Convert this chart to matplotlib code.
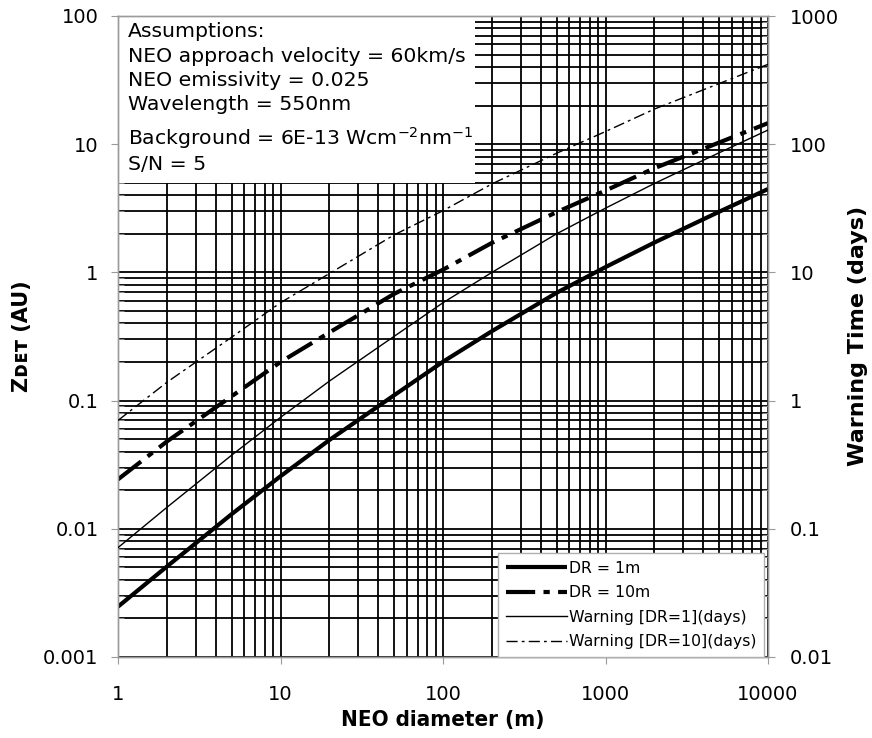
import matplotlib
matplotlib.use("Agg")
import matplotlib.pyplot as plt
from matplotlib.ticker import LogLocator, NullFormatter
from matplotlib.patches import Rectangle

# ---------------- data ----------------
diameter_m = [1, 2, 5, 10, 20, 50, 100, 200, 500, 1000, 2000, 5000, 10000]
zdet_dr1 = [0.00247, 0.00508, 0.0130, 0.0257, 0.0493, 0.110, 0.201, 0.348,
            0.693, 1.10, 1.71, 2.97, 4.47]
zdet_dr10 = [0.0243, 0.048, 0.108, 0.20, 0.34, 0.68, 1.05, 1.70, 2.95,
             4.35, 6.5, 10.3, 14.6]
warn_dr1_days = [0.0713, 0.147, 0.375, 0.74, 1.42, 3.17, 5.8, 10.0, 20.0,
                 31.7, 49.4, 85.7, 129]
warn_dr10_days = [0.70, 1.39, 3.12, 5.8, 9.8, 19.6, 30.3, 49, 85, 125.5,
                  188, 297, 420]

x_ticks = [1, 10, 100, 1000, 10000]
x_ticklabels = ["1", "10", "100", "1000", "10000"]
left_ticks = [0.001, 0.01, 0.1, 1, 10, 100]
left_ticklabels = ["0.001", "0.01", "0.1", "1", "10", "100"]
right_ticks = [0.01, 0.1, 1, 10, 100, 1000]
right_ticklabels = ["0.01", "0.1", "1", "10", "100", "1000"]

series_labels = ["DR = 1m", "DR = 10m", "Warning [DR=1](days)",
                 "Warning [DR=10](days)"]
assumptions = ["Assumptions:",
               "NEO approach velocity = 60km/s",
               "NEO emissivity = 0.025",
               "Wavelength = 550nm",
               r"Background = 6E-13 Wcm$^{\mathregular{-2}}$nm$^{\mathregular{-1}}$",
               "S/N = 5"]

# ---------------- figure ----------------
plt.rcParams["font.family"] = ["DejaVu Sans"]
plt.rcParams["mathtext.default"] = "regular"
W, H = 872, 738
fig = plt.figure(figsize=(W / 100, H / 100), dpi=100)
L, R, T, B = 118, 768, 16, 657
ax = fig.add_axes([L / W, 1 - B / H, (R - L) / W, (B - T) / H])
ax2 = ax.twinx()

spine_col = "#9a9a9a"

ax.set_xscale("log")
ax.set_yscale("log")
ax2.set_yscale("log")
ax.set_xlim(1, 10000)
ax.set_ylim(0.001, 100)
ax2.set_ylim(0.01, 1000)

# grid (major + minor, black)
ax.xaxis.set_minor_locator(LogLocator(base=10, subs=range(2, 10), numticks=20))
ax.yaxis.set_minor_locator(LogLocator(base=10, subs=range(2, 10), numticks=20))
ax.xaxis.set_minor_formatter(NullFormatter())
ax.yaxis.set_minor_formatter(NullFormatter())
ax2.yaxis.set_minor_locator(LogLocator(base=10, subs=range(2, 10), numticks=20))
ax2.yaxis.set_minor_formatter(NullFormatter())
ax.grid(True, which="both", color="black", linewidth=1.3)
ax.set_axisbelow(True)

ax.set_xticks(x_ticks)
ax.set_xticklabels(x_ticklabels)
ax.set_yticks(left_ticks)
ax.set_yticklabels(left_ticklabels)
ax2.set_yticks(right_ticks)
ax2.set_yticklabels(right_ticklabels)

for a in (ax, ax2):
    for s in a.spines.values():
        s.set_color(spine_col)
        s.set_linewidth(1.0)
ax.tick_params(axis="both", which="major", direction="out", length=5,
               color=spine_col, labelsize=14)
ax.tick_params(axis="x", which="major", pad=15)
ax.tick_params(axis="y", which="major", pad=9)
ax.tick_params(axis="x", which="minor", length=0)
ax.tick_params(axis="y", which="minor", direction="in", length=4,
               color=spine_col)
ax2.tick_params(axis="y", which="major", direction="out", length=5,
                color=spine_col, labelsize=14, pad=11)
ax2.tick_params(axis="y", which="minor", direction="in", length=4,
                color=spine_col)

# assumptions box (covers grid)
ax.add_patch(Rectangle((0, (B - 183) / (B - T)), (475 - L) / (R - L),
                       1 - (B - 183) / (B - T), transform=ax.transAxes,
                       facecolor="white", edgecolor="none", zorder=1.8))
text_y_px = [31.7, 56.7, 80.7, 105, 138.3, 164.3]
for txt, ypx in zip(assumptions, text_y_px):
    ax.text((128 - L) / (R - L), (B - ypx) / (B - T), txt,
            transform=ax.transAxes, fontsize=14.7, va="center", ha="left",
            zorder=3)

# curves
l1, = ax.plot(diameter_m, zdet_dr1, color="black", lw=3.0,
              solid_capstyle="butt", zorder=3)
l2, = ax.plot(diameter_m, zdet_dr10, color="black", lw=3.0,
              dashes=(7, 2, 1.5, 2), zorder=3)
l3, = ax2.plot(diameter_m, warn_dr1_days, color="black", lw=1.0, zorder=3)
l4, = ax2.plot(diameter_m, warn_dr10_days, color="black", lw=1.0,
               dashes=(8, 3, 2, 3), zorder=3)

leg = ax2.legend([l1, l2, l3, l4], series_labels, loc="lower right",
                 bbox_to_anchor=(1 - 4 / (R - L), 0.0),
                 bbox_transform=ax2.transAxes, borderaxespad=0,
                 fontsize=11.3, handlelength=3.9, handletextpad=0.1,
                 labelspacing=0.6, borderpad=0.5, fancybox=False,
                 framealpha=1, edgecolor="#b0b0b0")
leg.get_frame().set_linewidth(1.0)

# axis titles
fig.text(443 / W, 1 - 720 / H, "NEO diameter (m)", ha="center", va="center",
         fontsize=16, fontweight="bold", fontstretch="condensed",
         family=["Liberation Sans Narrow", "DejaVu Sans"])
fig.text(22 / W, 1 - 336 / H, "Z\u1d05\u1d07\u1d1b (AU)", ha="center",
         va="center", rotation=90, fontsize=15, fontweight="bold",
         family=["Liberation Sans Narrow", "DejaVu Sans"])
fig.text(858 / W, 1 - 336 / H, "Warning Time (days)", ha="center",
         va="center", rotation=90, fontsize=16, fontweight="bold",
         family=["Liberation Sans Narrow", "DejaVu Sans"])

fig.savefig("out.png", dpi=100)
